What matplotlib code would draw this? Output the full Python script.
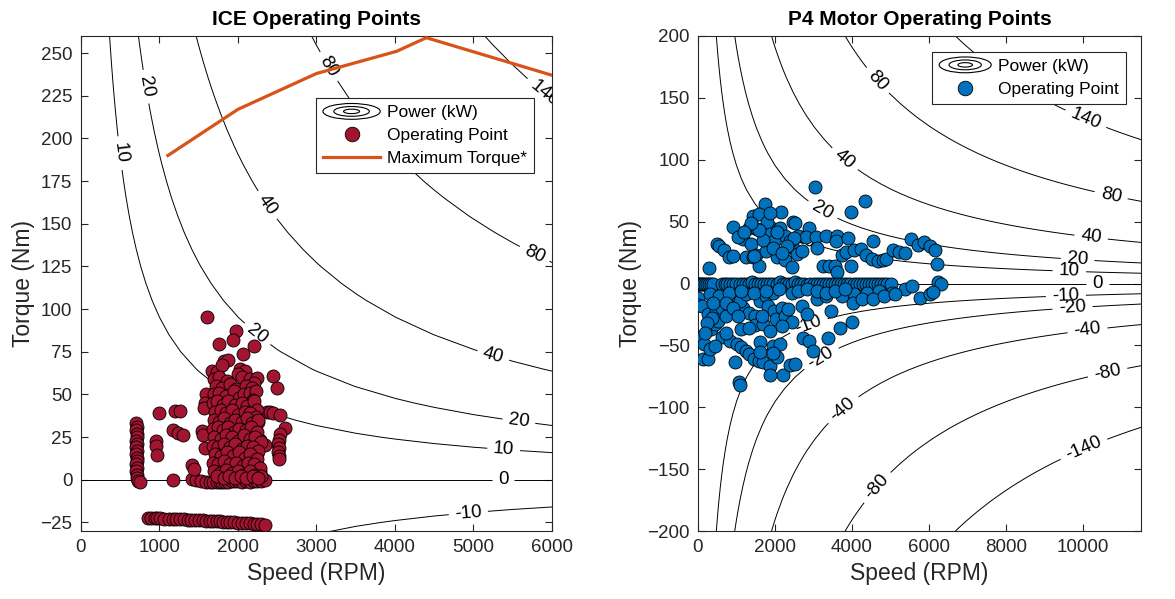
import numpy as np
import matplotlib.pyplot as plt
from matplotlib.legend_handler import HandlerBase
from matplotlib.patches import Ellipse
from matplotlib.lines import Line2D

plt.rcParams['font.family'] = ['Liberation Sans', 'DejaVu Sans']

# ---------------- data ----------------
ice_levels = [-10, 0, 10, 20, 40, 80, 140]
p4_levels = [-140, -80, -40, -20, -10, 0, 10, 20, 40, 80, 140]

# maximum torque curve of the ICE
max_torque_speed = [1110, 2000, 3000, 4020, 4400, 6000]
max_torque_value = [190, 217, 238, 251, 259, 237]

# ICE operating points (speed RPM, torque Nm)
ice_idle = [(705, 33), (715, 31), (710, 29), (720, 27), (712, 25), (708, 23), (718, 21),
            (710, 19), (715, 17), (705, 15), (720, 13), (712, 11), (708, 9), (716, 7),
            (710, 5), (720, 3), (712, 1), (725, -0.5), (760, -1)]
ice_motoring = [(860, -22.3), (900, -22.4), (940, -22.3), (975, -22.6), (1005, -22.5),
                (1060, -22.7), (1120, -22.8), (1180, -22.9), (1210, -23.0), (1260, -23.1),
                (1310, -23.2), (1360, -23.3), (1410, -23.4), (1460, -23.6), (1510, -23.7),
                (1560, -23.8), (1600, -24.0), (1640, -24.1), (1690, -24.2), (1730, -24.3),
                (1770, -24.4), (1810, -24.6), (1860, -24.7), (1900, -24.9), (1950, -25.0),
                (2000, -25.1), (2050, -25.3), (2100, -25.4), (2150, -25.5), (2200, -25.7),
                (2250, -25.8), (2300, -26.0), (2345, -26.3)]
ice_zero = [(1178, -0.3), (1415, 0.5), (1470, -0.4), (1530, -0.8), (1590, -1.2), (1640, -1.5),
            (1690, -1.5), (1730, -1.2), (1770, -1.0), (1800, -1.5), (1840, -1.2), (1880, -1.0),
            (1920, -0.8), (1960, -0.7), (2000, -0.8), (2050, -1.0), (2100, -0.8), (2150, -1.0),
            (2200, -0.8), (2250, -0.5), (2300, -0.6), (2340, -0.4)]
ice_scattered = [(1605, 95.6), (1979, 87.4), (1945, 81.9), (1766, 79.4), (2208, 78.4),
                 (2064, 73.7), (1826, 69.6), (1881, 70.2), (2454, 61), (2497, 53.6),
                 (1592, 50.3), (1584, 45), (1571, 42.3), (993, 39), (1195, 40.4), (1265, 40.4),
                 (2370, 40), (2410, 39.6), (2454, 39.4), (2539, 38), (2263, 34.1),
                 (1180, 29.3), (1240, 27.5), (1299, 26.3), (1541, 28.7), (1560, 26),
                 (962, 22.6), (955, 19.7), (967, 14.8), (1583, 18.5), (1413, 8.8), (1440, 6.3),
                 (2603, 30.2), (2539, 26.9), (2518, 23.4), (2512, 21), (2518, 18.5),
                 (2515, 16), (2520, 14), (2518, 12), (2348, 20.5), (2284, 23.4),
                 (2240, 15), (2280, 5), (2230, 10)]
ice_cluster = [(1670, 64), (1732, 63), (2030, 65), (2093, 64), (2000, 62), (1800, 67),
               (1700, 59), (1765, 60), (1860, 58), (2050, 60), (2150, 59), (2242, 59.5), (2205, 57),
               (1720, 55), (1800, 54), (1905, 56), (1980, 53), (2100, 55), (2180, 54),
               (1700, 50), (1760, 51), (1850, 49), (1950, 52), (2020, 48), (2080, 50), (2150, 51),
               (2230, 52), (2190, 47),
               (1690, 45), (1740, 46), (1810, 44), (1880, 46), (1960, 44), (2050, 45), (2120, 43),
               (2200, 46), (2250, 41),
               (1710, 40), (1780, 41), (1850, 39), (1920, 41), (2000, 38), (2090, 40), (2160, 39),
               (2230, 37),
               (1700, 35), (1760, 34), (1830, 36), (1900, 33), (1970, 35), (2050, 34), (2120, 36),
               (2180, 33), (2260, 35),
               (1690, 30), (1745, 31), (1810, 29), (1880, 31), (1950, 28), (2020, 30), (2100, 29),
               (2170, 31), (2240, 28),
               (1700, 25), (1780, 24), (1850, 26), (1920, 25), (2000, 23), (2080, 26), (2150, 24),
               (2220, 25), (2300, 22),
               (1690, 20), (1750, 19), (1820, 21), (1900, 19), (1970, 21), (2050, 18), (2120, 20),
               (2190, 19), (2260, 17),
               (1710, 15), (1780, 14), (1860, 16), (1940, 14), (2010, 16), (2090, 13), (2160, 15),
               (2240, 12),
               (1690, 10), (1750, 9), (1830, 11), (1900, 9), (1980, 10), (2060, 8), (2130, 10),
               (2210, 9), (2280, 7),
               (1700, 5), (1770, 4), (1850, 6), (1920, 4), (2000, 5), (2070, 3), (2150, 5),
               (2220, 3), (2300, 2),
               (1740, 2), (1820, 1), (1890, 2), (1960, 1), (2040, 2), (2110, 1), (2190, 2), (2260, 1)]

# P4 motor operating points (speed RPM, torque Nm)
p4_upper = [(3040, 78), (4344, 67), (3961, 57.5), (1736, 64), (1426, 54.5), (2168, 57.5),
            (1597, 56), (905, 46), (1328, 44.7), (1532, 43.9), (1883, 46), (1801, 50),
            (2469, 50), (2527, 48.7), (2877, 44.7), (2143, 44.7), (2266, 38), (2592, 38.5),
            (2796, 37.4), (3056, 37.4), (3325, 38), (3610, 38.5), (3594, 34.5), (3896, 36.6),
            (4548, 34), (5542, 35.8), (5705, 31.3), (5868, 33.2), (6015, 30.5), (6161, 26.7),
            (6218, 16), (489, 31.8), (538, 30.5), (676, 26.7), (799, 21.4), (293, 12.6),
            (1165, 36.1), (1369, 32.1), (1247, 21.1), (1426, 21.1), (1516, 23.3), (1581, 14.4),
            (1777, 25.9), (1883, 39.8), (1964, 34.5), (2062, 21.4), (2249, 19.3), (2429, 13.4),
            (2469, 28.6), (2575, 23.8), (2714, 25.9), (2388, 34), (2494, 36.6), (3080, 28.6),
            (3243, 14.4), (3390, 14.4), (3545, 13.9), (3610, 9.1), (3733, 22.7), (3855, 25.4),
            (3977, 14.4), (4059, 26.7), (4222, 27.8), (4368, 23.3), (4531, 19.8), (4670, 18.5),
            (4792, 18.7), (4874, 19.8), (5053, 26.7), (5216, 25.1), (5379, 24.6),
            (1043, 37.4), (1451, 21.9), (1695, 35.3), (1940, 28.6), (1573, 43.3), (1369, 48.7),
            (2062, 42), (2306, 30), (1858, 56.7), (1206, 42), (921, 21.9), (2184, 24.6)]
p4_zero_speed = [0, 30, 60, 100, 140, 180, 230, 280, 330, 400,
                 620, 690, 760, 840, 920, 1000, 1080, 1160, 1240, 1320, 1400, 1480, 1560,
                 1640, 1720, 1800, 1880, 1960, 2040, 2120, 2200, 2280, 2360, 2440, 2520,
                 2600, 2680, 2760, 2840, 2920, 3000, 3080, 3160, 3240, 3320, 3400, 3480,
                 3560, 3640, 3720, 3800, 3880, 3960, 4040, 4120, 4200, 4280, 4360, 4440,
                 4520, 4600, 4680, 4760, 4840, 4920, 5000, 6230, 6320]
p4_zero_torque = [0, 0, 0, 0, 0, 0, 0, 0, 0, 0,
                  0, 0, 0, 0, 0, 0, 0, 0, 0, 0, 1, 0, 0,
                  0, 0, 0, 0, 0, 0, 1, 0, 0, 0, 0, 1,
                  0, 0, 0, -1, 0, 0, 0, 0, 0, 0, 0, 0,
                  0, 0, 0, 0, 0, 0, 0, 0, 0, 0, 0, 0,
                  0, 0, 0, 0, 0, 0, 0, 1, 0]
p4_lower = [(0, -11.5), (0, -17.6), (106, -18.2), (269, -24.9), (65, -44.4), (147, -48.9),
            (129, -61), (259, -61), (350, -36.9), (432, -32.9), (513, -30.2), (473, -22.2),
            (619, -19.5), (717, -26.2), (839, -12.8), (1002, -10.2), (949, -63.6), (1053, -79.7),
            (1096, -82), (636, -43.6), (839, -46.3), (1002, -48.9), (1125, -51.6), (1247, -54.3),
            (1328, -57), (1451, -61), (1573, -62.3), (1679, -63.1), (1874, -66.3), (1614, -47.6),
            (1940, -50.3), (2143, -48.9), (2218, -74.3), (2390, -65.8), (2520, -65), (1873, -74.3),
            (1165, -19.5), (1328, -23.5), (1491, -26.2), (1084, -14.2), (1247, -8.8), (1614, -14.2),
            (1760, -10.2), (1940, -7.5), (1817, -18.2), (1980, -22.2), (2184, -19.5), (1491, -33.7),
            (1695, -32.9), (1858, -38.2), (2021, -28.9), (2266, -26.2), (2429, -31), (2184, -34.2),
            (2714, -18.2), (3080, -12.8), (3325, -10.2), (3464, -22.2), (2736, -44.4), (2882, -46.2),
            (2995, -54.3), (3383, -44.4), (3685, -35.6), (3987, -31), (3733, -10.2), (4059, -8.8),
            (4385, -7.5), (4711, -6.1), (5037, -7.5), (5363, -4.8), (5566, -2.1), (5770, -11.5),
            (6015, -8.8), (6113, -7), (4018, -15.5), (4262, -12.8), (4548, -12.3), (4833, -10.2),
            (5118, -8.8), (2429, -7.5), (2592, -6.1), (2836, -4.8), (3080, -6.1), (3325, -7.5),
            (3570, -6.1), (3814, -4.8), (310, -8.8), (554, -10.2), (799, -7.5), (1125, -6.1),
            (1451, -7.5), (1777, -6.1), (2103, -4.8), (391, -15.5), (717, -15.5), (921, -19.5),
            (1043, -26.2), (375, -27.5), (244, -31.6), (187, -39.6), (310, -52.9), (432, -50.3),
            (717, -39.6), (1125, -36.9), (1328, -35.6), (1654, -26.2), (2347, -20.9), (2836, -24.9),
            (1614, -55.6), (2062, -59.6), (1959, -56)]

# contour label positions (speed, torque)
ice_label_pos = [(438, 191), (797, 230), (2348, 160), (3154, 242), (5872, 225), (5766, 131),
                 (2242, 85), (5248, 72), (5575, 33), (5383, 16.6), (5376, 0), (4937, -20.5)]
p4_label_pos = [(4591, 162), (10028, 130), (3771, 99), (10718, 70), (3210, 58), (10200, 36),
                (9855, 19), (9640, 8.6), (2736, 30), (10373, 0), (9553, -11.5), (9726, -20.8),
                (10114, -38), (10632, -71.6), (10028, -134.5), (2865, -33), (3210, -61),
                (3771, -102), (4660, -165)]

ICE_RED = '#A2142F'
P4_BLUE = '#0072BD'
ORANGE = '#D95319'
DARK = '#262626'


class HandlerContour(HandlerBase):
    # concentric ellipses like the MATLAB contour legend icon
    def create_artists(self, legend, orig_handle, xdescent, ydescent, width, height, fontsize, trans):
        cx = width / 2 - xdescent
        cy = height / 2 - ydescent
        arts = []
        for f in (1.0, 0.62, 0.28):
            arts.append(Ellipse((cx, cy), width * f, height * 1.3 * f, fill=False,
                                lw=0.8, ec='k', transform=trans))
        return arts


def power_kw(speed, torque):
    return torque * speed * 2 * np.pi / 60 / 1000


def style_axes(ax):
    ax.tick_params(direction='in', top=True, right=True, length=5, width=0.8,
                   labelsize=13.5, colors=DARK, pad=6)
    for s in ax.spines.values():
        s.set_color(DARK)
        s.set_linewidth(0.8)


fig = plt.figure(figsize=(11.75, 5.99), dpi=100)
ax1 = fig.add_axes([0.0687, 0.1135, 0.4011, 0.8264])
ax2 = fig.add_axes([0.5940, 0.1135, 0.3770, 0.8264])

# ---------------- ICE ----------------
sp = np.linspace(1, 6001, 13)
tq = np.arange(-35, 266, 10)
S, T = np.meshgrid(sp, tq)
cs1 = ax1.contour(S, T, power_kw(S, T), levels=ice_levels, colors='k', linewidths=0.7,
                  linestyles='solid')
ax1.clabel(cs1, inline=True, fontsize=13.5, fmt='%d', manual=ice_label_pos, inline_spacing=6)

ice_pts = np.array(ice_idle + ice_motoring + ice_zero + ice_scattered + ice_cluster)
ax1.scatter(ice_pts[:, 0], ice_pts[:, 1], s=88, c=ICE_RED, edgecolors='k', linewidths=0.6,
            zorder=4)
ax1.plot(max_torque_speed, max_torque_value, color=ORANGE, lw=2.3, zorder=5)

ax1.set_xlim(0, 6000)
ax1.set_ylim(-30, 260)
ax1.set_xticks(np.arange(0, 6001, 1000))
ax1.set_yticks(np.arange(-25, 251, 25))
ax1.set_title('ICE Operating Points', fontsize=15, fontweight='bold', pad=8)
ax1.set_xlabel('Speed (RPM)', fontsize=16.5, color=DARK)
ax1.set_ylabel('Torque (Nm)', fontsize=16.5, color=DARK)
style_axes(ax1)

h_contour = Line2D([], [], color='k')
h_pts1 = Line2D([], [], ls='none', marker='o', ms=10.5, mfc=ICE_RED, mec='k', mew=0.6)
h_line = Line2D([], [], color=ORANGE, lw=2.3)
leg1 = ax1.legend([h_contour, h_pts1, h_line], ['Power (kW)', 'Operating Point', 'Maximum Torque*'],
                  handler_map={h_contour: HandlerContour()}, loc='upper right',
                  bbox_to_anchor=(0.962, 0.874), borderaxespad=0, fontsize=12.5,
                  fancybox=False, edgecolor=DARK, framealpha=1, handlelength=3.3,
                  labelspacing=0.45, borderpad=0.4, handletextpad=0.4)
leg1.get_frame().set_linewidth(0.8)
leg1.set_zorder(6)

# ---------------- P4 motor ----------------
sp2 = np.linspace(1, 11751, 48)
tq2 = np.arange(-205, 206, 10)
S2, T2 = np.meshgrid(sp2, tq2)
cs2 = ax2.contour(S2, T2, power_kw(S2, T2), levels=p4_levels, colors='k', linewidths=0.7,
                  linestyles='solid')
ax2.clabel(cs2, inline=True, fontsize=13.5, fmt='%d', manual=p4_label_pos, inline_spacing=6)

p4_pts = np.array(p4_upper + list(zip(p4_zero_speed, p4_zero_torque)) + p4_lower)
ax2.scatter(p4_pts[:, 0], p4_pts[:, 1], s=88, c=P4_BLUE, edgecolors='k', linewidths=0.6,
            zorder=4)

ax2.set_xlim(0, 11500)
ax2.set_ylim(-200, 200)
ax2.set_xticks(np.arange(0, 10001, 2000))
ax2.set_yticks(np.arange(-200, 201, 50))
ax2.set_title('P4 Motor Operating Points', fontsize=15, fontweight='bold', pad=8)
ax2.set_xlabel('Speed (RPM)', fontsize=16.5, color=DARK)
ax2.set_ylabel('Torque (Nm)', fontsize=16.5, color=DARK)
style_axes(ax2)

h_pts2 = Line2D([], [], ls='none', marker='o', ms=10.5, mfc=P4_BLUE, mec='k', mew=0.6)
leg2 = ax2.legend([h_contour, h_pts2], ['Power (kW)', 'Operating Point'],
                  handler_map={h_contour: HandlerContour()}, loc='upper right',
                  bbox_to_anchor=(0.966, 0.968), borderaxespad=0, fontsize=12.5,
                  fancybox=False, edgecolor=DARK, framealpha=1, handlelength=3.0,
                  labelspacing=0.45, borderpad=0.4, handletextpad=0.4)
leg2.get_frame().set_linewidth(0.8)
leg2.set_zorder(6)

fig.savefig('out.png', dpi=100)
